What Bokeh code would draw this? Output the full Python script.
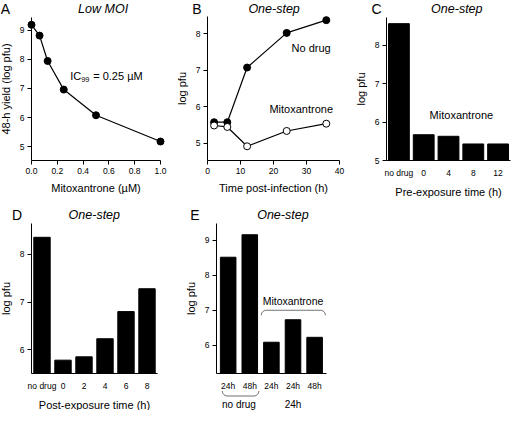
import math
from bokeh.embed import file_html
from bokeh.layouts import column, row
from bokeh.models import (FixedTicker, Label, NumeralTickFormatter, PolyAnnotation, Range1d)
from bokeh.plotting import figure
from bokeh.resources import INLINE

FONT = "Liberation Sans"

# ---------------- data ----------------
a_conc = [0.0, 0.0625, 0.125, 0.25, 0.5, 1.0]
a_yield = [9.18, 8.81, 7.94, 6.96, 6.08, 5.18]
a_xticks = [0.0, 0.2, 0.4, 0.6, 0.8, 1.0]
a_yticks = [5, 6, 7, 8, 9]

b_time = [2, 6, 12, 24, 36]
b_nodrug = [5.57, 5.57, 7.07, 8.02, 8.37]
b_mito = [5.48, 5.44, 4.91, 5.33, 5.53]
b_xticks = [0, 10, 20, 30, 40]
b_yticks = [5, 6, 7, 8]

c_cats = ["no drug", "0", "4", "8", "12"]
c_vals = [8.56, 5.67, 5.63, 5.43, 5.43]
c_yticks = [5, 6, 7, 8]

d_cats = ["no drug", "0", "2", "4", "6", "8"]
d_vals = [8.36, 5.78, 5.85, 6.23, 6.80, 7.28]
d_yticks = [6, 7, 8]

e_labels = ["24h", "48h", "24h", "24h", "48h"]
e_vals = [8.51, 9.15, 6.09, 6.73, 6.23]
e_group_of = [0, 0, 1, 1, 1]
e_group_below = ["no drug", "24h"]
e_yticks = [6, 7, 8, 9]


# ---------------- helpers ----------------
class Geo:
    """Maps pixel offsets (relative to the axes' top-left corner) to data."""

    def __init__(self, W, H, ax_l, ax_r, ax_t, ax_b, x0, x1, y0, y1):
        self.W, self.H = W, H
        self.x0, self.x1, self.y0, self.y1 = x0, x1, y0, y1
        self.fw, self.fh = ax_r - ax_l, ax_b - ax_t
        self.sx = (x1 - x0) / self.fw
        self.sy = (y1 - y0) / self.fh
        self.xr = (x0 - ax_l * self.sx, x1 + (W - ax_r) * self.sx)
        self.yr = (y0 - (H - ax_b) * self.sy, y1 + ax_t * self.sy)

    def X(self, px):
        return self.x0 + px * self.sx

    def Y(self, py):
        return self.y1 - py * self.sy

    def px(self, x):
        return (x - self.x0) / self.sx

    def py(self, y):
        return (self.y1 - y) / self.sy


def make(g, yticks, xticks):
    p = figure(width=g.W, height=g.H, x_range=Range1d(*g.xr), y_range=Range1d(*g.yr),
               output_backend="svg", toolbar_location=None,
               min_border_left=0, min_border_right=0,
               min_border_top=0, min_border_bottom=0)
    p.title.visible = False
    p.outline_line_color = None
    p.xgrid.visible = False
    p.ygrid.visible = False
    p.background_fill_color = "white"
    p.border_fill_color = "white"
    for ax in p.axis:
        ax.axis_line_color = "black"
        ax.axis_line_width = 1
        ax.major_tick_line_color = "black"
        ax.major_tick_out = 4
        ax.major_tick_in = 0
        ax.minor_tick_line_color = None
        ax.major_label_text_font = FONT
        ax.major_label_text_font_size = "8.5px"
        ax.major_label_text_color = "black"
        ax.axis_label_text_font = FONT
        ax.axis_label_text_font_size = "11px"
        ax.axis_label_text_font_style = "normal"
        ax.axis_label_text_color = "black"
        ax.major_label_standoff = 3
        ax.axis_label_standoff = 5
    p.yaxis.ticker = FixedTicker(ticks=yticks)
    p.xaxis.ticker = FixedTicker(ticks=xticks)
    p.xaxis.fixed_location = g.y0
    p.yaxis.fixed_location = g.x0
    p.xaxis.bounds = (g.x0, g.x1)
    p.yaxis.bounds = (g.y0, g.y1)
    return p


def label(p, x, y, s, size="11px", style="normal", align="center", xo=0, yo=0):
    p.add_layout(Label(x=x, y=y, text=s, text_font=FONT, text_font_size=size,
                       text_font_style=style, text_align=align, text_baseline="middle",
                       x_offset=xo, y_offset=yo, text_color="black"))


def heading(p, g, letter, lx, title, tx, ty):
    label(p, g.X(lx), g.Y(ty), letter, size="14px")
    label(p, g.X(tx), g.Y(ty), title, size="12.5px", style="italic")


def bracket(g, x0, x1, y_line, depth, opens_up):
    r = depth
    px0, px1, pyl = g.px(x0), g.px(x1), g.py(y_line)
    sgn = -1 if opens_up else 1
    cy = pyl + sgn * r
    pts = []
    for k in range(7):
        t = k / 6 * math.pi / 2
        pts.append((px0 + r - r * math.cos(t), cy - sgn * r * math.sin(t)))
    for k in range(7):
        t = k / 6 * math.pi / 2
        pts.append((px1 - r + r * math.sin(t), cy - sgn * r * math.cos(t)))
    path = pts + pts[::-1]
    return PolyAnnotation(xs=[g.X(a) for a, _ in path], ys=[g.Y(b) for _, b in path],
                          fill_alpha=0, line_color="black", line_width=1)


# ---------------- Panel A ----------------
ga = Geo(176, 203, 31, 160, 17, 160, 0.0, 1.0, 4.53, 9.43)
pa = make(ga, a_yticks, a_xticks)
pa.xaxis.formatter = NumeralTickFormatter(format="0.0")
pa.xaxis.axis_label = "Mitoxantrone (µM)"
pa.yaxis.axis_label = "48-h yield (log pfu)"
pa.line(a_conc, a_yield, line_color="black", line_width=1.2)
pa.scatter(a_conc, a_yield, size=7, fill_color="black", line_color="black")
ic_x, ic_y = 0.30, 7.43
label(pa, ic_x, ic_y, "IC", align="left")
label(pa, ic_x, ic_y, "99", size="7.5px", align="left", xo=11, yo=-4)
label(pa, ic_x, ic_y, "= 0.25 µM", align="left", xo=23)
heading(pa, ga, "A", -26, "Low MOI", 71.6, -9)

# ---------------- Panel B ----------------
gb = Geo(179, 203, 31, 163, 16, 160, 0, 40, 4.52, 8.47)
pb = make(gb, b_yticks, b_xticks)
pb.xaxis.axis_label = "Time post-infection (h)"
pb.yaxis.axis_label = "log pfu"
pb.line(b_time, b_nodrug, line_color="black", line_width=1.2)
pb.line(b_time, b_mito, line_color="black", line_width=1.2)
pb.scatter(b_time, b_nodrug, size=7, fill_color="black", line_color="black")
pb.scatter(b_time, b_mito, size=7, fill_color="white", line_color="black", line_width=1)
label(pb, 31.4, 7.6, "No drug")
label(pb, 28.4, 5.92, "Mitoxantrone")
heading(pb, gb, "B", -10.6, "One-step", 66.6, -8)

# ---------------- Panel C ----------------
c_x = [i + 1 for i in range(len(c_cats))]
gc = Geo(157, 203, 31, 155, 17, 160, 0.5, len(c_cats) + 0.5, 5.0, 8.72)
pc = make(gc, c_yticks, c_x)
pc.xaxis.major_label_overrides = {x: s for x, s in zip(c_x, c_cats)}
pc.xaxis.major_tick_line_color = None
pc.xaxis.axis_label = "Pre-exposure time (h)"
pc.yaxis.axis_label = "log pfu"
pc.vbar(x=c_x, top=c_vals, bottom=gc.y0, width=0.84, fill_color="black", line_color="black")
label(pc, 3.52, 6.18, "Mitoxantrone")
heading(pc, gc, "C", -10, "One-step", 70.3, -9)

# ---------------- Panel D ----------------
d_x = [i + 1 for i in range(len(d_cats))]
gd = Geo(180, 207, 31, 157, 20, 170, 0.5, len(d_cats) + 0.5, 5.5, 8.65)
pd_ = make(gd, d_yticks, d_x)
pd_.xaxis.major_label_overrides = {x: s for x, s in zip(d_x, d_cats)}
pd_.xaxis.major_tick_line_color = None
pd_.xaxis.axis_label = "Post-exposure time (h)"
pd_.yaxis.axis_label = "log pfu"
pd_.vbar(x=d_x, top=d_vals, bottom=gd.y0, width=0.78, fill_color="black", line_color="black")
heading(pd_, gd, "D", -14.4, "One-step", 62.8, -8.5)

# ---------------- Panel E ----------------
e_x = [i + 1 for i in range(len(e_labels))]
ge = Geo(160, 207, 36, 146, 20, 170, 0.46, 5.55, 5.2, 9.47)
pe = make(ge, e_yticks, e_x)
pe.xaxis.major_label_overrides = {x: s for x, s in zip(e_x, e_labels)}
pe.xaxis.major_tick_line_color = None
pe.yaxis.axis_label = "log pfu"
pe.vbar(x=e_x, top=e_vals, bottom=ge.y0, width=0.72, fill_color="black", line_color="black")

grp0 = [x for x, g in zip(e_x, e_group_of) if g == 0]
grp1 = [x for x, g in zip(e_x, e_group_of) if g == 1]
pe.add_layout(bracket(ge, grp0[0] - 0.27, grp0[-1] + 0.42, ge.Y(ge.fh + 22.5), 5, True))
y_sub = ge.Y(ge.fh + 31)
label(pe, sum(grp0) / len(grp0), y_sub, e_group_below[0], size="10px")
label(pe, sum(grp1) / len(grp1), y_sub, e_group_below[1], size="10px")
pe.add_layout(bracket(ge, grp1[0] - 0.47, grp1[-1] + 0.5, 7.0, 5, False))
label(pe, sum(grp1) / len(grp1), 7.26, "Mitoxantrone", size="10.5px")
heading(pe, ge, "E", -21.6, "One-step", 66.4, -8.5)

layout = column(row(pa, pb, pc), row(pd_, pe))
open("out.html", "w").write(file_html(layout, INLINE))
